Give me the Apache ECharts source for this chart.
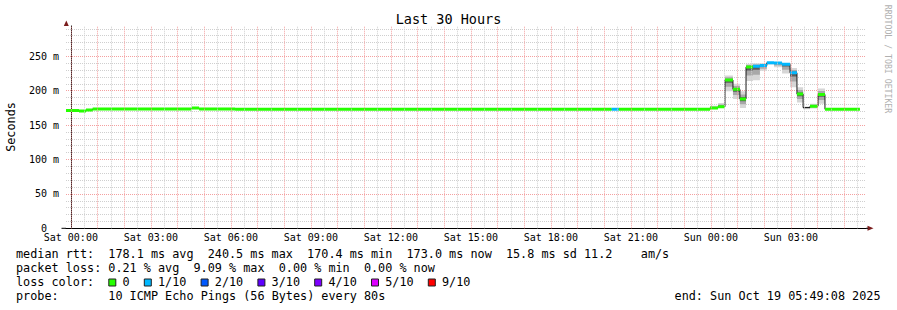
<!DOCTYPE html>
<html><head><meta charset="utf-8">
<script src="https://cdn.jsdelivr.net/npm/echarts@6/dist/echarts.min.js"></script>
<style>html,body{margin:0;padding:0;background:#fff}#c{width:897px;height:310px}</style>
</head><body><div id="c"></div>
<script>
// ---- time axis in hours relative to Sat 00:00 ----
const axisStartHour = -0.1811;   // Fri 23:49:08
const axisEndHour = 29.8189;     // Sun 05:49:08
const tickHours = [0, 3, 6, 9, 12, 15, 18, 21, 24, 27];
const tickLabels = ['Sat 00:00','Sat 03:00','Sat 06:00','Sat 09:00','Sat 12:00','Sat 15:00','Sat 18:00','Sat 21:00','Sun 00:00','Sun 03:00'];
const yMaxMs = 294;
const yTickValues = [0, 50, 100, 150, 200, 250];

// ---- consolidated steps (start hour of each step) ----
const segStartHour = [-0.1811, 0.306, 0.569, 0.82, 4.53, 4.81, 6.16, 20.28, 20.55,
  23.97, 24.27, 24.53, 24.83, 25.09, 25.32, 25.58, 25.84, 26.10, 26.37, 26.67, 26.97,
  27.23, 27.46, 27.72, 28.02, 28.28];
const lastEndHour = 29.59;
const medianMs = [171.2, 170.4, 172.0, 173.5, 174.8, 173.5, 173.0, 173.0, 173.0,
  175.0, 176.6, 215.5, 202.0, 188.0, 234.5, 235.5, 236.5, 240.5, 240.3, 238.5, 226.0,
  195.0, 175.5, 177.5, 194.5, 173.0];
const lossTenths = [0, 0, 0, 0, 0, 0, 0, 1, 0,
  0, 0, 0, 0, 0, 0, 1, 1, 1, 1, 1, 1,
  0, -1, 0, 0, 0];
const smokeLoMs = [null, null, null, null, null, null, null, null, null,
  174, 175, 199, 188, 175, 214, 215, 229, 238, 234, 225, 205,
  183, 173, 174, 181, null];
const smokeHiMs = [null, null, null, null, null, null, null, null, null,
  178, 182, 222, 210, 199, 239, 240, 240, 241, 241, 240, 233,
  205, 177, 181, 203, null];

// ---- legend ----
const lossColors = ['#26ff00', '#00b8ff', '#0059ff', '#5e00ff', '#7e00ff', '#dd00ff', '#ff0000'];
const lossLabels = ['0', '1/10', '2/10', '3/10', '4/10', '5/10', '9/10'];
const lossLegendCols = [13, 18, 26, 34, 42, 50, 58];
const statRow1 = [[0,'median rtt:'],[13,'178.1 ms avg'],[27,'240.5 ms max'],[41,'170.4 ms min'],[55,'173.0 ms now'],[69,'15.8 ms sd'],[80,'11.2'],[88,'am/s']];
const statRow2 = [[0,'packet loss:'],[13,'0.21 % avg'],[25,'9.09 % max'],[37,'0.00 % min'],[49,'0.00 % now']];
const statRow4 = [[0,'probe:'],[13,'10 ICMP Echo Pings (56 Bytes) every 80s']];
const endText = 'end: Sun Oct 19 05:49:08 2025';
const titleText = 'Last 30 Hours';
const watermark = 'RRDTOOL / TOBI OETIKER';

const mono = "'DejaVu Sans Mono', monospace";
const MAJOR = '#f4a0a0', MINOR = '#cfcfcf';

const segEndHour = segStartHour.slice(1).concat([lastEndHour]);
const medianLine = [];
segStartHour.forEach((s, i) => { medianLine.push([s, medianMs[i]], [segEndHour[i], medianMs[i]]); });
const lossData = segStartHour.map((s, i) => [s, segEndHour[i], medianMs[i], lossTenths[i]]);
const smokeData = [];
segStartHour.forEach((s, i) => {
  if (smokeLoMs[i] != null) smokeData.push([s, segEndHour[i], smokeLoMs[i], smokeHiMs[i], medianMs[i]]);
});
const gridLines = [];
for (let h = 0; h <= 29; h++) gridLines.push({ xAxis: h, lineStyle: { color: MAJOR, type: [1, 1], width: 1 } });
for (let h = 0.5; h <= 29.5; h += 1) gridLines.push({ xAxis: h, lineStyle: { color: MINOR, type: [1, 1], width: 1 } });

const colX = c => 16 + c * 7.1;
const graphics = [];
function addText(x, y, text, size, align, extra) {
  graphics.push(Object.assign({
    type: 'text', x: x, y: y, silent: true,
    style: { text: text, x: 0, y: 0, font: size + 'px ' + mono, fill: '#000',
      textAlign: align, align: align, textVerticalAlign: 'middle', verticalAlign: 'middle' }
  }, extra || {}));
}
const rowY = [254.3, 268.3, 282.3, 296.3];
statRow1.forEach(p => addText(colX(p[0]), rowY[0], p[1], 11.8, 'left'));
statRow2.forEach(p => addText(colX(p[0]), rowY[1], p[1], 11.8, 'left'));
addText(colX(0), rowY[2], 'loss color:', 11.8, 'left');
lossLabels.forEach((lab, i) => {
  graphics.push({ type: 'rect', silent: true, shape: { x: colX(lossLegendCols[i]) + 0.5, y: 279, width: 7, height: 7 },
    style: { fill: lossColors[i], stroke: '#202020', lineWidth: 1 } });
  addText(colX(lossLegendCols[i] + 2), rowY[2], lab, 11.8, 'left');
});
statRow4.forEach(p => addText(colX(p[0]), rowY[3], p[1], 11.8, 'left'));
addText(880.5, rowY[3], endText, 11.8, 'right');
addText(448.5, 19, titleText, 13.5, 'center');
graphics.push({ type: 'text', x: 887.5, y: 59, rotation: -Math.PI / 2, silent: true,
  style: { text: watermark, x: 0, y: 0, font: '8.2px ' + mono, fill: '#b0b0b0',
    textAlign: 'center', align: 'center', textVerticalAlign: 'middle', verticalAlign: 'middle' } });
// y-axis title
graphics.push({ type: 'text', x: 11, y: 127, rotation: Math.PI / 2, silent: true,
  style: { text: 'Seconds', x: 0, y: 0, font: '11.8px ' + mono, fill: '#000',
    textAlign: 'center', align: 'center', textVerticalAlign: 'middle', verticalAlign: 'middle' } });
// axis arrows
graphics.push({ type: 'polygon', silent: true, shape: { points: [[63.8, 26], [66.3, 20.5], [68.8, 26]] }, style: { fill: '#7a1c1c' } });
graphics.push({ type: 'polygon', silent: true, shape: { points: [[867.5, 225.8], [873.5, 228.3], [867.5, 230.8]] }, style: { fill: '#7a1c1c' } });
graphics.push({ type: 'line', silent: true, shape: { x1: 866, y1: 228.3, x2: 868, y2: 228.3 }, style: { stroke: '#000', lineWidth: 1 } });
graphics.push({ type: 'line', silent: true, shape: { x1: 61.5, y1: 228.3, x2: 66, y2: 228.3 }, style: { stroke: '#000', lineWidth: 1 } });

const chart = echarts.init(document.getElementById('c'), null, { renderer: 'svg', width: 897, height: 310 });
chart.setOption({
  animation: false,
  backgroundColor: '#ffffff',
  grid: { left: 66, width: 800, top: 26, height: 202.3, containLabel: false, outerBoundsMode: 'none' },
  xAxis: {
    type: 'value', min: axisStartHour, max: axisEndHour,
    axisLine: { show: true, onZero: false, lineStyle: { color: '#000', width: 1 } },
    axisTick: { show: false },
    splitLine: { show: false },
    axisLabel: {
      customValues: tickHours, margin: 4, fontFamily: mono, fontSize: 10, color: '#000',
      formatter: v => { const i = tickHours.indexOf(v); return i >= 0 ? tickLabels[i] : ''; }
    }
  },
  yAxis: [{
    type: 'value', min: 0, max: yMaxMs, interval: 50, z: 1,
    axisLine: { show: true, lineStyle: { color: '#000', width: 1 } },
    axisTick: { show: false },
    splitLine: { show: true, showMaxLine: false, showMinLine: false, lineStyle: { color: MAJOR, type: [1, 1], width: 1 } },
    axisLabel: {
      margin: 7, fontFamily: mono, fontSize: 10, color: '#000', showMaxLabel: false,
      formatter: v => (yTickValues.indexOf(v) < 0 ? '' : (v === 0 ? '{z|0}' : v + ' m')),
      rich: { z: { fontFamily: mono, fontSize: 10, color: '#000', padding: [0, 12, 0, 0] } }
    }
  }, {
    type: 'value', min: 0, max: yMaxMs, interval: 10, z: 0,
    axisLine: { show: false }, axisTick: { show: false }, axisLabel: { show: false },
    splitLine: { show: true, showMaxLine: false, showMinLine: false, lineStyle: { color: MINOR, type: [1, 1], width: 1 } }
  }],
  graphic: { elements: graphics },
  series: [
    { type: 'line', z: 1, data: [], silent: true,
      markLine: { silent: true, symbol: ['none', 'none'], label: { show: false }, animation: false, data: gridLines } },
    { type: 'custom', z: 2, clip: true, silent: true, data: smokeData,
      encode: { x: [0, 1], y: [2, 3] },
      renderItem: (params, api) => {
        const s = api.value(0), e = api.value(1), lo = api.value(2), hi = api.value(3), m = api.value(4);
        const band = (a, b, color) => {
          const p1 = api.coord([s, b]), p2 = api.coord([e, a]);
          return { type: 'rect', shape: { x: p1[0], y: p1[1], width: p2[0] - p1[0], height: p2[1] - p1[1] }, style: { fill: color } };
        };
        return { type: 'group', children: [
          band(lo, hi, '#d6d6d6'),
          band(m - (m - lo) * 0.6, m + (hi - m) * 0.6, '#a8a8a8'),
          band(m - (m - lo) * 0.25, m + (hi - m) * 0.25, '#5c5c5c')
        ] };
      } },
    { type: 'line', z: 3, data: medianLine, symbol: 'none', silent: true,
      lineStyle: { color: '#1a1a1a', width: 1 } },
    { type: 'custom', z: 4, clip: true, silent: true, data: lossData,
      encode: { x: [0, 1], y: [2] },
      renderItem: (params, api) => {
        const loss = api.value(3);
        if (loss < 0) return { type: 'group', children: [] };
        const p1 = api.coord([api.value(0), api.value(2)]), p2 = api.coord([api.value(1), api.value(2)]);
        return { type: 'line', shape: { x1: p1[0], y1: p1[1], x2: p2[0], y2: p2[1] },
          style: { stroke: lossColors[loss], lineWidth: 3 } };
      } }
  ]
});
</script></body></html>
